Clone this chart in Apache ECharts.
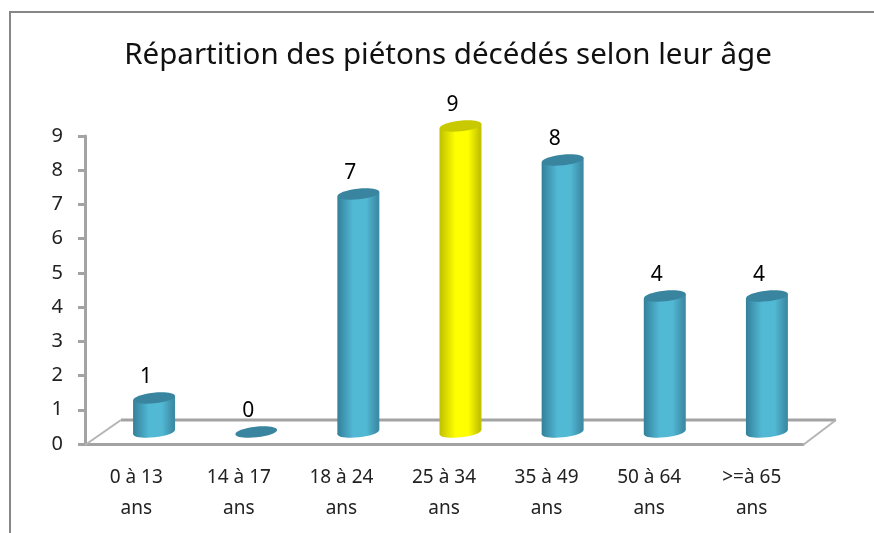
<!DOCTYPE html>
<html><head><meta charset="utf-8">
<style>html,body{margin:0;padding:0;background:#fff}#c{width:874px;height:533px}</style>
<script src="https://cdn.jsdelivr.net/npm/echarts@6/dist/echarts.min.js"></script>
</head><body><div id="c"></div>
<script>
const titleText = 'Répartition des piétons décédés selon leur âge';
const categories = ['0 à 13\nans','14 à 17\nans','18 à 24\nans','25 à 34\nans','35 à 49\nans','50 à 64\nans','>=à 65\nans'];
const values = [1,0,7,9,8,4,4];
const highlightIndex = 3;
const yTicks = [0,9];

const FONT = '"Noto Sans","Open Sans",sans-serif';
const AXIS = '#a3a3a3';
const blue = {edge:'#33809a', mid:'#52b9d5', top:'#39859f', edge2:'#3d8ca6'};
const yellow = {edge:'#c0c000', mid:'#ffff00', top:'#c9c900', edge2:'#c4c400'};
const RX = 21, RY = 5.4, TILT = 2.2;

function renderCyl(params, api){
  const i = api.value(0), v = api.value(1);
  const top = api.coord([i, v]), base = api.coord([i, 0]);
  const cx = top[0], c = params.dataIndex === highlightIndex ? yellow : blue;
  const rot = Math.atan2(TILT, RX);
  const grad = () => new echarts.graphic.LinearGradient(0,0,1,0,[
    {offset:0,color:c.edge},{offset:0.38,color:c.mid},{offset:0.68,color:c.mid},{offset:0.95,color:c.edge2},{offset:1,color:c.edge2}]);
  const ellipse = (y, fill) => ({type:'ellipse', x:cx, y:y, rotation:rot, originX:0, originY:0,
    shape:{cx:0, cy:0, rx:RX, ry:RY}, style:{fill:fill}});
  const children = [];
  if (v > 0) {
    children.push(ellipse(base[1], grad()));
    children.push({type:'polygon', shape:{points:[
      [cx-RX, top[1]+TILT],[cx+RX, top[1]-TILT],[cx+RX, base[1]-TILT],[cx-RX, base[1]+TILT]]},
      style:{fill:grad()}});
  }
  children.push(ellipse(top[1], c.top));
  children.push({type:'text', x:cx-8, y:top[1]-20.5, style:{text:String(v), fill:'#000',
    font:'21px '+FONT, align:'center', verticalAlign:'middle'}});
  return {type:'group', children};
}

const chart = echarts.init(document.getElementById('c'), null, {renderer:'canvas'});
chart.setOption({
  animation:false,
  backgroundColor:'#fff',
  title:{text:titleText, left:449, top:36, textAlign:'center',
    textStyle:{fontFamily:FONT, fontSize:29.5, fontWeight:'normal', color:'#111'}},
  grid:[
    {left:85, top:136, width:718, height:308},
    {left:103, top:126, width:715, height:306}
  ],
  xAxis:[
    {type:'category', gridIndex:0, data:categories, boundaryGap:true,
      axisLine:{lineStyle:{color:AXIS,width:3}},
      axisTick:{length:7, lineStyle:{color:AXIS,width:3}},
      axisLabel:{fontFamily:FONT, fontSize:19, color:'#222', margin:18, lineHeight:31, interval:0}},
    {type:'category', gridIndex:1, data:categories, show:false}
  ],
  yAxis:[
    {type:'value', gridIndex:0, min:yTicks[0], max:yTicks[1], interval:1,
      axisLine:{show:true, lineStyle:{color:AXIS,width:3}},
      axisTick:{show:true, length:7, lineStyle:{color:AXIS,width:3}},
      splitLine:{show:false},
      axisLabel:{fontFamily:FONT, fontSize:20, color:'#222', margin:22}},
    {type:'value', gridIndex:1, min:yTicks[0], max:yTicks[1], show:false, splitLine:{show:false}}
  ],
  graphic:[
    {type:'polyline', z:1, shape:{points:[[121,420],[836,420]]},
      style:{stroke:AXIS, lineWidth:3, fill:null}},
    {type:'polyline', z:1, shape:{points:[[85,445],[121,420]]},
      style:{stroke:'#b5b5b5', lineWidth:2, fill:null}},
    {type:'polyline', z:1, shape:{points:[[803,445],[836,420]]},
      style:{stroke:'#b5b5b5', lineWidth:2, fill:null}},
    {type:'polyline', z:1, shape:{points:[[10,533],[10,12],[874,12]]},
      style:{stroke:'#868686', lineWidth:2, fill:null}}
  ],
  series:[{type:'custom', xAxisIndex:1, yAxisIndex:1, z:5, clip:false,
    renderItem:renderCyl, encode:{x:0,y:1},
    data:values.map((v,i)=>[i,v])}]
});
chart.setOption({title:{left:443}});
</script></body></html>
